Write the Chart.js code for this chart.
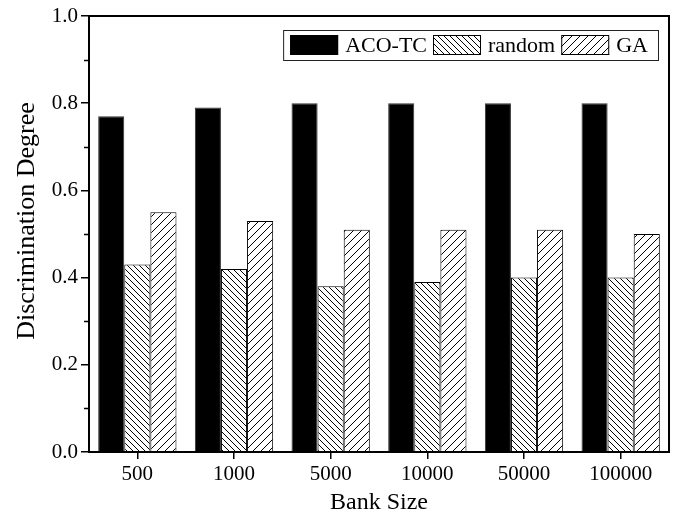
<!DOCTYPE html>
<html><head><meta charset="utf-8">
<script src="https://cdn.jsdelivr.net/npm/chart.js@4/dist/chart.umd.min.js"></script>
<style>html,body{margin:0;padding:0;background:#fff}#wrap{width:679px;height:518px;position:relative}</style>
</head><body><div id="wrap"><canvas id="c" width="679" height="518"></canvas></div>
<script>
const categories = ['500', '1000', '5000', '10000', '50000', '100000'];
const acoTC = [0.77, 0.79, 0.80, 0.80, 0.80, 0.80];
const randomVals = [0.43, 0.42, 0.38, 0.39, 0.40, 0.40];
const gaVals = [0.55, 0.53, 0.51, 0.51, 0.51, 0.50];
const seriesNames = ['ACO-TC', 'random', 'GA'];
const yMajorTicks = [0, 0.2, 0.4, 0.6, 0.8, 1.0];
const yMinorTicks = [0.1, 0.3, 0.5, 0.7, 0.9];
const xTitle = 'Bank Size';
const yTitle = 'Discrimination Degree';

const FONT = '"Liberation Serif", "Times New Roman", serif';
const canvas = document.getElementById('c');
const mainCtx = canvas.getContext('2d');

function hatch(size, dir) {
  const c = document.createElement('canvas');
  c.width = size; c.height = size;
  const g = c.getContext('2d');
  g.fillStyle = '#fff'; g.fillRect(0, 0, size, size);
  g.strokeStyle = '#000'; g.lineWidth = 1; g.beginPath();
  if (dir === 'back') {
    g.moveTo(-1, -1); g.lineTo(size + 1, size + 1);
    g.moveTo(-2, size - 2); g.lineTo(2, size + 2);
    g.moveTo(size - 2, -2); g.lineTo(size + 2, 2);
  } else {
    g.moveTo(-1, size + 1); g.lineTo(size + 1, -1);
    g.moveTo(-2, 2); g.lineTo(2, -2);
    g.moveTo(size - 2, size + 2); g.lineTo(size + 2, size - 2);
  }
  g.stroke();
  return mainCtx.createPattern(c, 'repeat');
}

const fills = ['#000', hatch(6, 'back'), hatch(8, 'fwd')];

const boxAndLegend = {
  id: 'boxAndLegend',
  afterDatasetsDraw(chart) {
    const ctx = chart.ctx;
    const a = chart.chartArea;
    const y = chart.scales.y;
    ctx.save();
    // minor ticks
    ctx.strokeStyle = '#000';
    ctx.lineWidth = 1.5;
    ctx.beginPath();
    yMinorTicks.forEach(v => {
      const py = Math.round(y.getPixelForValue(v)) + 0.5;
      ctx.moveTo(a.left - 5, py); ctx.lineTo(a.left, py);
    });
    ctx.stroke();
    // frame
    ctx.lineWidth = 2;
    ctx.strokeRect(a.left, a.top, a.right - a.left, a.bottom - a.top);
    // y title
    ctx.save();
    ctx.font = '26px ' + FONT;
    ctx.fillStyle = '#000';
    ctx.textAlign = 'center';
    ctx.textBaseline = 'alphabetic';
    ctx.translate(34, (a.top + a.bottom) / 2 - 13);
    ctx.rotate(-Math.PI / 2);
    ctx.fillText(yTitle, 0, 0);
    ctx.restore();
    // legend
    ctx.font = '22px ' + FONT;
    ctx.textBaseline = 'middle';
    const sw = 48, sh = 20, gap = 7, itemGap = 6, padL = 7, padR = 10;
    let total = padL + padR;
    const widths = seriesNames.map(n => ctx.measureText(n).width);
    widths.forEach((w, i) => { total += sw + gap + w + (i < widths.length - 1 ? itemGap : 0); });
    const bh = 30;
    const bx = a.right - 11 - total;
    const by = a.top + 14;
    ctx.fillStyle = '#fff';
    ctx.fillRect(bx, by, total, bh);
    ctx.lineWidth = 1;
    ctx.strokeStyle = '#222';
    ctx.strokeRect(bx + 0.5, by + 0.5, total, bh);
    let x = bx + padL;
    seriesNames.forEach((n, i) => {
      const sy = by + (bh - sh) / 2;
      ctx.fillStyle = chart.data.datasets[i].backgroundColor;
      ctx.fillRect(x, sy, sw, sh);
      ctx.strokeStyle = '#000';
      ctx.strokeRect(x + 0.5, sy + 0.5, sw - 1, sh - 1);
      x += sw + gap;
      ctx.fillStyle = '#000';
      ctx.fillText(n, x, by + bh / 2 + 1);
      x += widths[i] + itemGap;
    });
    ctx.restore();
  }
};

new Chart(canvas, {
  type: 'bar',
  data: {
    labels: categories,
    datasets: [
      { label: seriesNames[0], data: acoTC, backgroundColor: fills[0], borderColor: '#333', borderWidth: 1 },
      { label: seriesNames[1], data: randomVals, backgroundColor: fills[1], borderColor: '#000', borderWidth: 1 },
      { label: seriesNames[2], data: gaVals, backgroundColor: fills[2], borderColor: '#000', borderWidth: 1 }
    ]
  },
  options: {
    responsive: false,
    animation: false,
    devicePixelRatio: 1,
    layout: { padding: { top: 16, right: 10, left: 0, bottom: 0 } },
    datasets: { bar: { categoryPercentage: 0.81, barPercentage: 1.0 } },
    plugins: { legend: { display: false }, tooltip: { enabled: false } },
    scales: {
      x: {
        type: 'category',
        offset: true,
        afterFit(s) { s.height = 66; },
        grid: { offset: false, drawOnChartArea: false, drawTicks: true, tickLength: 7, color: '#000', lineWidth: 1.5 },
        border: { display: true, color: '#000', width: 2 },
        ticks: { color: '#000', font: { family: FONT, size: 21 }, padding: 3, maxRotation: 0, autoSkip: false },
        title: { display: true, text: xTitle, color: '#000', font: { family: FONT, size: 24 }, padding: { top: 0, bottom: 1 } }
      },
      y: {
        min: 0, max: 1,
        afterFit(s) { s.width = 89; },
        afterBuildTicks(s) { s.ticks = yMajorTicks.map(v => ({ value: v })); },
        grid: { drawOnChartArea: false, drawTicks: true, tickLength: 8, color: '#000', lineWidth: 1.5 },
        border: { display: true, color: '#000', width: 2 },
        ticks: { color: '#000', font: { family: FONT, size: 21 }, padding: 3, callback: v => Number(v).toFixed(1) },
        title: { display: false }
      }
    }
  },
  plugins: [boxAndLegend]
});
</script>
</body></html>
